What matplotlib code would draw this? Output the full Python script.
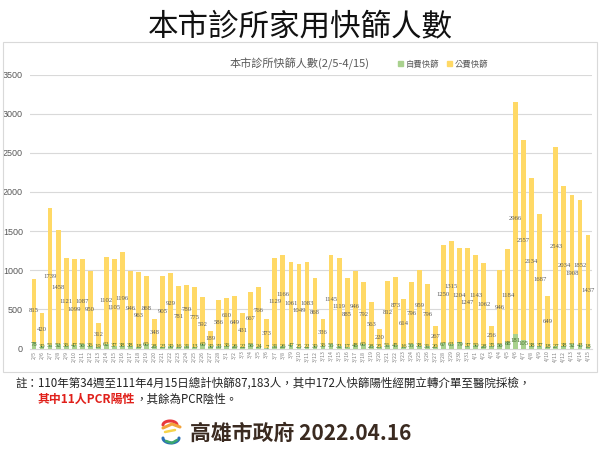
import matplotlib
matplotlib.use("Agg")
import matplotlib.pyplot as plt
import numpy as np
from matplotlib.lines import Line2D
from matplotlib.patches import Rectangle, Patch

plt.rcParams['font.family'] = ['Noto Sans CJK TC', 'DejaVu Sans']

dates = ["2/5", "2/6", "2/7", "2/8", "2/9", "2/10", "2/11", "2/12", "2/13", "2/14",
         "2/15", "2/16", "2/17", "2/18", "2/19", "2/20", "2/21", "2/22", "2/23", "2/24",
         "2/25", "2/26", "2/27", "2/28", "3/1", "3/2", "3/3", "3/4", "3/5", "3/6",
         "3/7", "3/8", "3/9", "3/10", "3/11", "3/12", "3/13", "3/14", "3/15", "3/16",
         "3/17", "3/18", "3/19", "3/20", "3/21", "3/22", "3/23", "3/24", "3/25", "3/26",
         "3/27", "3/28", "3/29", "3/30", "3/31", "4/1", "4/2", "4/3", "4/4", "4/5",
         "4/6", "4/7", "4/8", "4/9", "4/10", "4/11", "4/12", "4/13", "4/14", "4/15"]

self_pay = [78, 30, 51, 52, 36, 47, 56, 36, 19, 62, 37, 38, 38, 18, 60, 28, 23, 30, 16, 31,
            13, 60, 30, 33, 36, 26, 22, 56, 24, 7, 31, 26, 47, 25, 22, 30, 36, 55, 32, 17,
            48, 60, 28, 25, 51, 45, 16, 55, 38, 31, 20, 67, 63, 79, 37, 50, 28, 35, 56, 88,
            181, 105, 38, 37, 18, 27, 38, 52, 43, 18]

public = [815, 420, 1739, 1458, 1121, 1099, 1087, 950, 312, 1102, 1105, 1196, 946, 963, 868,
          348, 905, 929, 781, 780, 775, 592, 189, 586, 610, 649, 431, 667, 766, 373,
          1129, 1166, 1061, 1049, 1083, 868, 336, 1145, 1119, 885, 946, 792, 563, 220, 812,
          873, 614, 796, 959, 796, 267, 1250, 1315, 1204, 1247, 1143, 1062, 256, 946, 1184,
          2966, 2557, 2134, 1687, 649, 2543, 2034, 1908, 1852, 1437]

c_self = '#A9D18E'
c_pub = '#FFD966'
grey = '#595959'

fig = plt.figure(figsize=(6, 4.5), dpi=100)
fig.patch.set_facecolor('white')

# chart frame
fig.patches.append(Rectangle((3 / 600, 1 - 372 / 450), 594 / 600, 330 / 450,
                             transform=fig.transFigure, fill=False,
                             edgecolor='#d9d9d9', linewidth=0.8))

ax = fig.add_axes([30 / 600, 1 - 348.5 / 450, 562 / 600, 274 / 450])
x = np.arange(len(dates))
ax.bar(x, self_pay, width=0.6, color=c_self, label='自費快篩', zorder=3)
ax.bar(x, public, width=0.6, bottom=self_pay, color=c_pub, label='公費快篩', zorder=3)

# data labels (public labels staggered vertically when neighbours collide)
gap = 95
prev_y = None
for i in range(len(dates)):
    ax.text(i, self_pay[i] / 2 + 15, str(self_pay[i]), ha='center', va='center',
            fontsize=4.8, color='#3f6b2a', family=['Liberation Serif', 'DejaVu Serif'], zorder=4)
    y = self_pay[i] + public[i] / 2
    if prev_y is not None and abs(y - prev_y) < gap:
        if y <= prev_y and prev_y - gap > self_pay[i] + 100:
            y = prev_y - gap
        else:
            y = prev_y + gap
    prev_y = y
    ax.text(i, y, str(public[i]), ha='center', va='center',
            fontsize=4.8, color=grey, family=['Liberation Serif', 'DejaVu Serif'], zorder=4)

ax.set_xlim(-0.5, 69.5)
ax.set_ylim(0, 3500)
ax.set_yticks(np.arange(0, 3501, 500))
ax.grid(axis='y', color='#d9d9d9', linewidth=0.8, zorder=0)
ax.set_axisbelow(True)
for s in ['top', 'right', 'left']:
    ax.spines[s].set_visible(False)
ax.spines['bottom'].set_color('#d9d9d9')
ax.spines['bottom'].set_linewidth(0.8)
ax.tick_params(axis='y', length=0, pad=5, labelsize=6.5, labelcolor=grey)
ax.tick_params(axis='x', length=0, pad=1.5, labelsize=3.8, labelcolor='#7f7f7f')
ax.set_xticks(x)
ax.set_xticklabels(dates, rotation=90)
for lab in ax.get_yticklabels():
    lab.set_family(['Liberation Sans', 'DejaVu Sans'])

# titles
fig.text(0.5, 1 - 27 / 450, '本市診所家用快篩人數', ha='center', va='center',
         fontsize=22, color='#111111', fontweight='light')
fig.text(300 / 600, 1 - 64 / 450, '本市診所快篩人數(2/5-4/15)', ha='center', va='center',
         fontsize=8, color=grey)

handles = [Patch(color=c_self, label='自費快篩'), Patch(color=c_pub, label='公費快篩')]
fig.legend(handles=handles, loc='center', bbox_to_anchor=(443 / 600, 1 - 64 / 450),
           ncol=2, frameon=False, fontsize=6, handlelength=0.6, handleheight=0.6,
           handletextpad=0.3, columnspacing=1.0, labelcolor=grey)

# note
fig.text(15 / 600, 1 - 383 / 450,
         '註：110年第34週至111年4月15日總計快篩87,183人，其中172人快篩陽性經開立轉介單至醫院採檢，',
         ha='left', va='center', fontsize=8.3, color='#222222')
t1 = fig.text(38 / 600, 1 - 399 / 450, '其中11人PCR陽性', ha='left', va='center',
              fontsize=8.6, color='#e0201a', fontweight='bold')
fig.canvas.draw()
bb = t1.get_window_extent()
fig.text(bb.x1 / 600, 1 - 399 / 450, '，其餘為PCR陰性。', ha='left', va='center',
         fontsize=8.3, color='#222222')

# footer
fig.text(190 / 600, 1 - 433 / 450, '高雄市政府 2022.04.16', ha='left', va='center',
         fontsize=15, fontweight='bold', color='#3a2a20')

# simple logo
def fl(xs, ys, c, lw=2.2):
    fig.add_artist(Line2D(np.array(xs) / 600, 1 - np.array(ys) / 450, color=c,
                          linewidth=lw, solid_capstyle='round', transform=fig.transFigure))

t = np.linspace(0, np.pi, 20)
fl(170 + 7 * np.cos(t), 425 - 4 * np.sin(t), '#e8383d')
fl([163, 172, 180], [428, 424, 427], '#f3a33b')
fl([165, 175], [432, 430], '#f6d34a', 1.8)
fl(171 + 8 * np.cos(t + np.pi), 438 + 5 * np.sin(t + np.pi) * -1, '#2a6fb5')
fl([166, 172, 177], [441, 443, 440], '#3aa76d', 1.8)

fig.savefig('out.png', dpi=100)
